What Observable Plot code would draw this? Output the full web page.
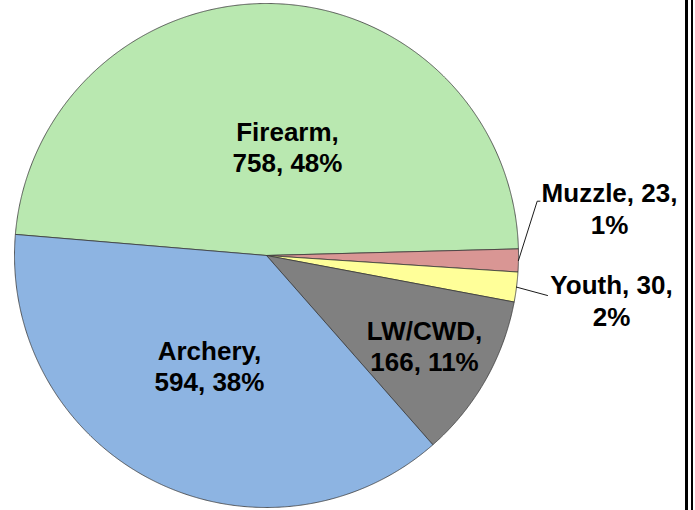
<!DOCTYPE html>
<html>
<head>
<meta charset="utf-8">
<script src="https://cdn.jsdelivr.net/npm/d3@7"></script>
<script src="https://cdn.jsdelivr.net/npm/@observablehq/plot@0.6"></script>
<style>
  html, body { margin: 0; padding: 0; background: #fff; }
  #wrap { position: relative; width: 695px; height: 510px; overflow: hidden; }
  #wrap svg { position: absolute; left: 0; top: 0; }
  .bar1 { position: absolute; left: 685px; top: 0; width: 3px; height: 510px; background: #000; }
  .bar2 { position: absolute; left: 691px; top: 0; width: 2px; height: 510px; background: #000; }
</style>
</head>
<body>
<div id="wrap"><div class="bar1"></div><div class="bar2"></div></div>
<script>
// ---- data (clockwise order, starting from the Firearm / Archery boundary) ----
const categories = ["Firearm", "Muzzle", "Youth", "LW/CWD", "Archery"];
const values = [758, 23, 30, 166, 594];
const colors = ["#B9E8B0", "#D99694", "#FFFF99", "#808080", "#8DB4E2"];

// ---- layout ----
const R = 252;                 // radius in px
const cx = 266, cy = 255;      // pie centre in px
const W = 695, H = 510;
const startDeg = -85.2;        // rotation of the first slice (clockwise from 12 o'clock)
const total = d3.sum(values);
const pct = values.map(v => Math.round(v / total * 100) + "%");

const arcs = d3.pie().sort(null)
  .startAngle(startDeg * Math.PI / 180)
  .endAngle(startDeg * Math.PI / 180 + 2 * Math.PI)(values);

// polygon points per slice (unit circle, y up)
const slicePts = [];
arcs.forEach((a, i) => {
  const name = categories[i];
  slicePts.push({name, x: 0, y: 0});
  const n = Math.max(2, Math.ceil((a.endAngle - a.startAngle) / (0.25 * Math.PI / 180)));
  for (let k = 0; k <= n; k++) {
    const t = a.startAngle + (a.endAngle - a.startAngle) * k / n;
    slicePts.push({name, x: Math.sin(t), y: Math.cos(t)});
  }
  slicePts.push({name, x: 0, y: 0});
});

// label placement (unit coordinates) – inside labels and outside labels
const px = (X) => (X - cx) / R, py = (Y) => (cy - Y) / R;
const labelPos = {
  "Firearm": [px(287), py(146)],
  "Archery": [px(209), py(365)],
  "LW/CWD": [px(424), py(345)],
  "Muzzle": [px(609), py(207.5)],
  "Youth": [px(611), py(299.5)]
};
const outside = new Set(["Muzzle", "Youth"]);
const labels = categories.map((c, i) => ({
  name: c,
  x: labelPos[c][0],
  y: labelPos[c][1],
  text: outside.has(c) ? `${c}, ${values[i]},\n${pct[i]}` : `${c},\n${values[i]}, ${pct[i]}`
}));

// leader lines for outside labels, starting at the slice's mid-angle on the rim
const leaderEnds = {
  "Muzzle": [[px(536.7), py(200.7)], [px(539.5), py(200.7)]],
  "Youth": [[px(547), py(295)]]
};
const leaderPts = [];
categories.forEach((c, i) => {
  if (!leaderEnds[c]) return;
  const m = (arcs[i].startAngle + arcs[i].endAngle) / 2;
  leaderPts.push({name: c, x: Math.sin(m), y: Math.cos(m)});
  leaderEnds[c].forEach(([x, y]) => leaderPts.push({name: c, x, y}));
});

const chart = Plot.plot({
  width: W,
  height: H,
  margin: 0,
  x: {domain: [-cx / R, (W - cx) / R], axis: null},
  y: {domain: [-(H - cy) / R, cy / R], axis: null},
  color: {domain: categories, range: colors},
  style: {fontFamily: "'Liberation Sans', Arial, sans-serif", background: "transparent", overflow: "visible"},
  marks: [
    Plot.line(slicePts, {x: "x", y: "y", z: "name", fill: "name", stroke: "#3a3a3a", strokeWidth: 0.8, strokeLinejoin: "round"}),
    Plot.line(leaderPts, {x: "x", y: "y", z: "name", stroke: "#000", strokeWidth: 0.9}),
    Plot.text(labels, {x: "x", y: "y", text: "text", fontSize: 26, fontWeight: "bold", lineHeight: 1.2, fill: "#000"})
  ]
});
document.getElementById("wrap").prepend(chart);
</script>
</body>
</html>
